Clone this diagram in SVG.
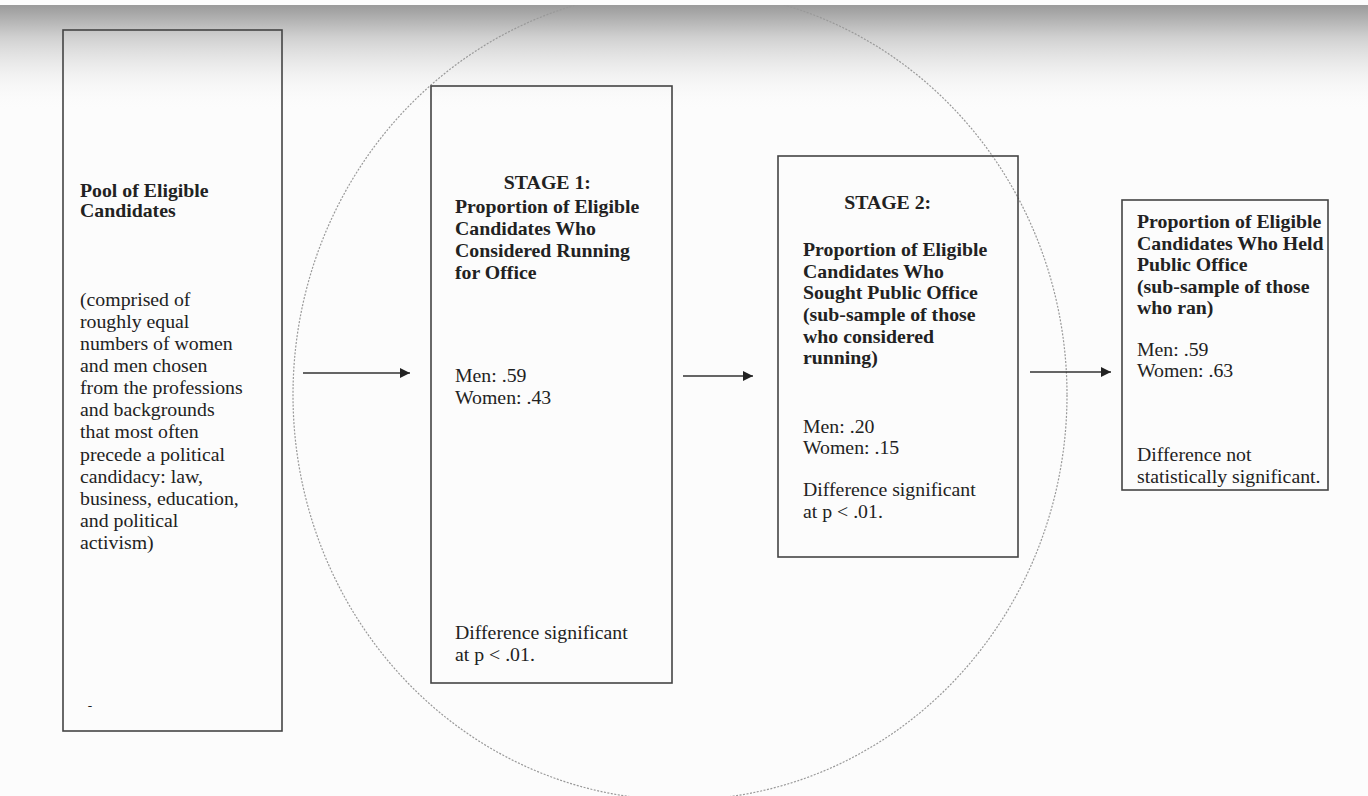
<svg xmlns="http://www.w3.org/2000/svg" width="1368" height="796" viewBox="0 0 1368 796">
<defs>
<linearGradient id="topg" x1="0" y1="0" x2="0" y2="1">
<stop offset="0" stop-color="#9a9a9a"/>
<stop offset="0.3" stop-color="#cfcfcf"/>
<stop offset="1" stop-color="#fbfbfb" stop-opacity="0"/>
</linearGradient>
<linearGradient id="sideg" x1="0" y1="0" x2="1" y2="0">
<stop offset="0" stop-color="#fcfcfc" stop-opacity="0"/>
<stop offset="1" stop-color="#fcfcfc" stop-opacity="0.5"/>
</linearGradient>
<marker id="ah" viewBox="0 0 10 10" refX="10" refY="5" markerWidth="11" markerHeight="10" markerUnits="userSpaceOnUse" orient="auto">
<path d="M0,0 L10,5 L0,10 z" fill="#222"/>
</marker>
<style>
.box{fill:none;stroke:#444;stroke-width:1.6}
.t{font-family:"Liberation Serif","Times New Roman",serif;font-size:18px;fill:#222}
.b{font-weight:bold}
.c{text-anchor:middle}
.conn{stroke:#333;stroke-width:1.6;fill:none;marker-end:url(#ah)}
</style>
</defs>
<rect x="0" y="0" width="1368" height="796" fill="#fcfcfc"/>
<rect x="0" y="5" width="1368" height="105" fill="url(#topg)"/>
<ellipse id="circle" cx="680" cy="395" rx="387" ry="405" fill="none" stroke="#999" stroke-width="1.2" stroke-dasharray="2 1.5"/>
<rect x="0" y="0" width="1368" height="5" fill="#fcfcfc"/>
<g id="connectors">
<line class="conn" x1="303" y1="373" x2="410" y2="373"/>
<line class="conn" x1="683" y1="376" x2="753" y2="376"/>
<line class="conn" x1="1030" y1="372" x2="1111" y2="372"/>
</g>
<g id="pool">
<rect class="box" x="63" y="30" width="219" height="701"/>
<g transform="translate(80,0) scale(1.1,1)">
<text class="t b" x="0" y="197">Pool of Eligible</text>
<text class="t b" x="0" y="217">Candidates</text>
<text class="t" x="0" y="306">(comprised of</text>
<text class="t" x="0" y="328">roughly equal</text>
<text class="t" x="0" y="350">numbers of women</text>
<text class="t" x="0" y="372">and men chosen</text>
<text class="t" x="0" y="394">from the professions</text>
<text class="t" x="0" y="416">and backgrounds</text>
<text class="t" x="0" y="438">that most often</text>
<text class="t" x="0" y="461">precede a political</text>
<text class="t" x="0" y="483">candidacy: law,</text>
<text class="t" x="0" y="505">business, education,</text>
<text class="t" x="0" y="527">and political</text>
<text class="t" x="0" y="549">activism)</text>
<text class="t" x="7" y="710" style="font-size:12px">-</text>
</g>
</g>
<g id="stage1">
<rect class="box" x="431" y="86" width="241" height="597"/>
<g transform="translate(455,0) scale(1.1,1)">
<text class="t b c" x="84" y="189">STAGE 1:</text>
<text class="t b" x="0" y="213">Proportion of Eligible</text>
<text class="t b" x="0" y="235">Candidates Who</text>
<text class="t b" x="0" y="257">Considered Running</text>
<text class="t b" x="0" y="279">for Office</text>
<text class="t" x="0" y="382">Men: .59</text>
<text class="t" x="0" y="404">Women: .43</text>
<text class="t" x="0" y="639">Difference significant</text>
<text class="t" x="0" y="661">at p &lt; .01.</text>
</g>
</g>
<g id="stage2">
<rect class="box" x="778" y="156" width="240" height="401"/>
<g transform="translate(803,0) scale(1.1,1)">
<text class="t b c" x="77" y="209">STAGE 2:</text>
<text class="t b" x="0" y="256">Proportion of Eligible</text>
<text class="t b" x="0" y="278">Candidates Who</text>
<text class="t b" x="0" y="299">Sought Public Office</text>
<text class="t b" x="0" y="321">(sub-sample of those</text>
<text class="t b" x="0" y="343">who considered</text>
<text class="t b" x="0" y="364">running)</text>
<text class="t" x="0" y="433">Men: .20</text>
<text class="t" x="0" y="454">Women: .15</text>
<text class="t" x="0" y="496">Difference significant</text>
<text class="t" x="0" y="518">at p &lt; .01.</text>
</g>
</g>
<g id="held">
<rect class="box" x="1122" y="200" width="206" height="290"/>
<g transform="translate(1137,0) scale(1.1,1)">
<text class="t b" x="0" y="228">Proportion of Eligible</text>
<text class="t b" x="0" y="250">Candidates Who Held</text>
<text class="t b" x="0" y="271">Public Office</text>
<text class="t b" x="0" y="293">(sub-sample of those</text>
<text class="t b" x="0" y="314">who ran)</text>
<text class="t" x="0" y="356">Men: .59</text>
<text class="t" x="0" y="377">Women: .63</text>
<text class="t" x="0" y="461">Difference not</text>
<text class="t" x="0" y="483">statistically significant.</text>
</g>
</g>
</svg>
